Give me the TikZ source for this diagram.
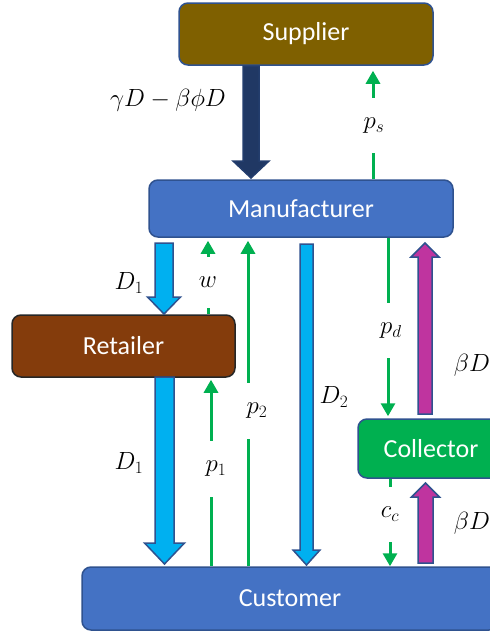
\documentclass[tikz,border=0pt]{standalone}
\usepackage{fontspec}
\setsansfont{Carlito}
\usetikzlibrary{arrows.meta,calc}
\definecolor{boxborder}{HTML}{2F528F}
\definecolor{supfill}{HTML}{7F6000}
\definecolor{manfill}{HTML}{4472C4}
\definecolor{retfill}{HTML}{843C0C}
\definecolor{retborder}{HTML}{262626}
\definecolor{colfill}{HTML}{00B050}
\definecolor{grn}{HTML}{00B050}
\definecolor{lblue}{HTML}{00B0F0}
\definecolor{navy}{HTML}{203864}
\definecolor{mag}{HTML}{BF349F}
\tikzset{
  box/.style={draw=boxborder, line width=1.5pt, rounded corners=9pt, text=white,
    font=\sffamily\fontsize{26}{30}\selectfont, inner sep=0pt},
  g/.style={draw=grn, line width=3pt},
  ga/.style={g, -{Triangle[width=14pt,length=13pt]}},
  lab/.style={font=\fontsize{24}{28}\selectfont, inner sep=0pt},
  gapnode/.style={lab, minimum height=#1},
  lbarrow/.style={fill=lblue, draw=boxborder, line width=1.5pt, line join=miter},
  navyarrow/.style={fill=navy, draw=navy!80!boxborder, line width=1.5pt},
  magarrow/.style={fill=mag, draw=boxborder, line width=1.5pt},
}
% #1 style, #2 x, #3 tail y, #4 tip y, #5 shaft half width, #6 head half width, #7 signed head length
\newcommand\blkarrow[7]{\draw[#1] ({#2-#5},#3) -- ({#2-#5},{#4-(#7)}) -- ({#2-#6},{#4-(#7)}) -- (#2,#4) -- ({#2+#6},{#4-(#7)}) -- ({#2+#5},{#4-(#7)}) -- ({#2+#5},#3) -- cycle;}
\begin{document}
\begin{tikzpicture}[x=1pt,y=-1pt]
\useasboundingbox (0,0) rectangle (490,633);
\clip (0,0) rectangle (490,633);
% boxes
\node[box, fill=supfill, minimum width=254pt, minimum height=62pt] (sup) at (306,34) {Supplier};
\node[box, fill=manfill, minimum width=304pt, minimum height=57pt] (man) at (301,208.5) {Manufacturer};
\node[box, fill=retfill, draw=retborder, minimum width=223pt, minimum height=62pt] (ret) at (123.5,346) {Retailer};
\node[box, fill=colfill, minimum width=146pt, minimum height=59pt] (col) at (431,448.5) {Collector};
\node[box, fill=manfill, minimum width=416pt, minimum height=63pt] (cus) at (290,598.5) {Customer};
% block arrows
\blkarrow{navyarrow}{251}{66}{178}{8}{18}{17}
\blkarrow{lbarrow}{164}{243}{314}{9}{16.5}{17}
\blkarrow{lbarrow}{164.5}{377}{564}{9.5}{20}{21}
\blkarrow{lbarrow}{306.5}{244}{565}{6.5}{13.5}{15}
\blkarrow{magarrow}{425}{414}{243}{7}{14}{-14}
\blkarrow{magarrow}{425.5}{563}{483}{7.5}{14}{-14}
% block arrow labels
\node[lab] (lgam) at (168,100) {$\gamma D-\beta\phi D$};
\node[lab] (ld1a) at (129,283) {$D_1$};
\node[lab] (ld1b) at (129,463) {$D_1$};
\node[lab] (ld2) at (334,397) {$D_2$};
\node[lab] (lbd1) at (472,365) {$\beta D$};
\node[lab] (lbd2) at (472,523) {$\beta D$};
% green line positions
\coordinate (Lps) at (373,0);
\coordinate (Lw) at (208,0);
\coordinate (L2) at (248,0);
\coordinate (L1) at (211,0);
\coordinate (Ld) at (388,0);
\coordinate (Lc) at (390,0);
% green labels (their height is the gap in the line)
\node[gapnode=55pt] (ps) at (374,125.5) {$p_s$};
\node[gapnode=51pt] (w) at (208,282.5) {$w$};
\node[gapnode=56pt] (p2) at (257,411) {$p_2$};
\node[gapnode=56pt] (p1) at (216,469) {$p_1$};
\node[gapnode=55pt] (pd) at (391,330.5) {$p_d$};
\node[gapnode=55pt] (cc) at (390,514.5) {$c_c$};
% green connectors
\draw[g] (Lps |- man.north) -- (Lps |- ps.south);
\draw[ga] (Lps |- ps.north) -- ($(Lps |- sup.south)+(0,5)$);
\draw[g] (Lw |- ret.north) -- (Lw |- w.south);
\draw[ga] (Lw |- w.north) -- ($(Lw |- man.south)+(0,3)$);
\draw[g] (L2 |- cus.north) -- (L2 |- p2.south);
\draw[ga] (L2 |- p2.north) -- ($(L2 |- man.south)+(0,3)$);
\draw[g] (L1 |- cus.north) -- (L1 |- p1.south);
\draw[ga] (L1 |- p1.north) -- ($(L1 |- ret.south)+(0,2)$);
\draw[g] (Ld |- man.south) -- (Ld |- pd.north);
\draw[ga] (Ld |- pd.south) -- ($(Ld |- col.north)+(0,-2)$);
\draw[g] (Lc |- col.south) -- (Lc |- cc.north);
\draw[ga] (Lc |- cc.south) -- (Lc |- cus.north);
\end{tikzpicture}
\end{document}
